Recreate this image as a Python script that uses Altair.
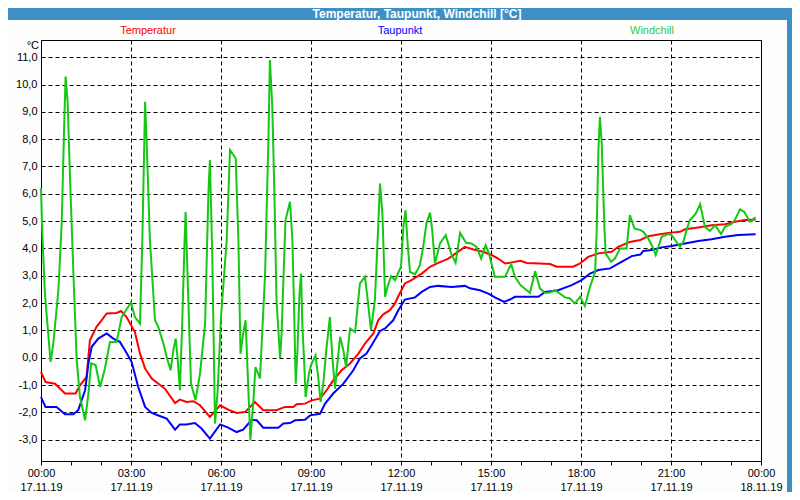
import altair as alt
import pandas as pd

# ---------------- data (hours since 17.11.19 00:00, °C) ----------------
series_names = ["Temperatur", "Taupunkt", "Windchill"]
series_colors = ["#ff0000", "#0000ff", "#14c814"]
legend_colors = ["#ff0000", "#0000ff", "#33cc33"]

temp_t = [0.00, 0.15, 0.47, 0.80, 1.15, 1.30, 1.52, 1.63, 1.85, 2.02, 2.19, 2.52, 2.67, 2.85,
          3.13, 3.30, 3.47, 3.69, 3.98, 4.13, 4.47, 4.63, 4.85, 5.08, 5.30, 5.63, 5.97, 6.24,
          6.52, 6.80, 7.13, 7.41, 7.85, 8.13, 8.41, 8.52, 8.80, 9.02, 9.30, 9.52, 9.74, 10.02,
          10.30, 10.58, 10.80, 11.08, 11.24, 11.41, 11.63, 11.80, 11.91, 12.13, 12.35, 12.69,
          12.97, 13.24, 13.58, 13.85, 14.13, 14.41, 14.74, 15.02, 15.24, 15.47, 15.69, 15.98,
          16.19, 16.63, 16.97, 17.19, 17.74, 17.97, 18.24, 18.58, 19.02, 19.24, 19.63, 19.98,
          20.24, 20.58, 20.91, 21.30, 21.47, 21.91, 22.35, 22.80, 23.13, 23.47, 23.82]
temp_v = [-0.52, -0.89, -0.95, -1.31, -1.31, -1.01, -0.70, 0.64, 1.13, 1.37, 1.62, 1.64, 1.71, 1.49,
          0.94, 0.15, -0.40, -0.76, -1.01, -1.13, -1.66, -1.53, -1.62, -1.59, -1.74, -2.17, -1.74, -1.90,
          -2.02, -1.99, -1.62, -1.92, -1.92, -1.80, -1.80, -1.70, -1.68, -1.56, -1.50, -1.19, -0.83, -0.46,
          -0.21, 0.15, 0.52, 0.89, 1.37, 1.59, 1.74, 1.99, 2.25, 2.72, 2.84, 3.08,
          3.33, 3.47, 3.63, 3.84, 4.06, 3.96, 3.88, 3.76, 3.63, 3.45, 3.49, 3.55,
          3.47, 3.45, 3.43, 3.33, 3.33, 3.45, 3.69, 3.82, 3.88, 4.06, 4.24, 4.31,
          4.45, 4.51, 4.57, 4.61, 4.70, 4.77, 4.85, 4.89, 4.98, 5.04, 5.06]

dew_t = [0.00, 0.15, 0.52, 0.80, 1.08, 1.24, 1.47, 1.58, 1.69, 1.91, 2.19, 2.41, 2.63, 2.80,
         3.02, 3.24, 3.47, 3.69, 3.98, 4.19, 4.47, 4.63, 4.85, 5.13, 5.35, 5.63, 5.97, 6.24,
         6.52, 6.74, 7.02, 7.19, 7.41, 7.91, 8.08, 8.30, 8.47, 8.80, 8.97, 9.30, 9.47, 9.74,
         10.08, 10.41, 10.63, 10.85, 11.02, 11.30, 11.47, 11.74, 11.91, 12.13, 12.47, 12.69,
         12.97, 13.24, 13.69, 14.13, 14.30, 14.63, 14.91, 15.13, 15.44, 15.63, 15.80, 16.58,
         16.80, 17.24, 17.69, 18.02, 18.30, 18.58, 18.97, 19.35, 19.69, 19.98, 20.08, 20.35,
         20.69, 21.02, 21.47, 21.91, 22.35, 22.80, 23.24, 23.82]
dew_v = [-1.44, -1.80, -1.80, -2.07, -2.07, -1.92, -1.19, -0.21, 0.40, 0.70, 0.89, 0.70, 0.58, 0.27,
         -0.15, -1.07, -1.80, -2.02, -2.14, -2.23, -2.63, -2.44, -2.44, -2.39, -2.59, -2.96, -2.44, -2.56,
         -2.72, -2.63, -2.27, -2.29, -2.56, -2.56, -2.41, -2.39, -2.29, -2.27, -2.11, -2.05, -1.68, -1.31,
         -0.95, -0.46, -0.03, 0.15, 0.46, 0.98, 1.07, 1.37, 1.74, 2.13, 2.21, 2.41,
         2.59, 2.63, 2.59, 2.63, 2.54, 2.47, 2.35, 2.21, 2.04, 2.13, 2.23, 2.23,
         2.41, 2.47, 2.66, 2.84, 3.08, 3.21, 3.27, 3.51, 3.72, 3.78, 3.91, 3.94,
         4.04, 4.09, 4.18, 4.27, 4.34, 4.43, 4.49, 4.52]

wind_t = [0.00, 0.04, 0.13, 0.24, 0.32, 0.41, 0.58, 0.69, 0.78, 0.82, 0.89, 0.97, 1.08, 1.19,
          1.30, 1.47, 1.58, 1.67, 1.82, 1.97, 2.13, 2.30, 2.52, 2.69, 3.00, 3.13, 3.30, 3.38,
          3.47, 3.52, 3.63, 3.80, 3.91, 4.08, 4.19, 4.32, 4.41, 4.49, 4.55, 4.63, 4.71, 4.78,
          4.82, 4.89, 5.00, 5.15, 5.30, 5.47, 5.58, 5.63, 5.71, 5.80, 5.89, 6.00, 6.19, 6.30,
          6.49, 6.58, 6.65, 6.74, 6.82, 6.89, 6.98, 7.08, 7.15, 7.30, 7.47, 7.58, 7.63, 7.71,
          7.78, 7.85, 7.97, 8.02, 8.08, 8.15, 8.30, 8.38, 8.44, 8.49, 8.55, 8.61, 8.67, 8.71,
          8.78, 8.82, 8.93, 9.00, 9.15, 9.24, 9.32, 9.41, 9.52, 9.63, 9.71, 9.80, 9.89, 9.97,
          10.08, 10.17, 10.30, 10.47, 10.63, 10.80, 10.89, 11.00, 11.13, 11.24, 11.30, 11.38,
          11.47, 11.55, 11.67, 11.80, 12.00, 12.08, 12.15, 12.22, 12.30, 12.47, 12.63, 12.74,
          12.85, 12.97, 13.04, 13.13, 13.30, 13.49, 13.67, 13.82, 13.97, 14.17, 14.35, 14.52,
          14.67, 14.82, 14.93, 15.13, 15.47, 15.67, 15.80, 15.98, 16.08, 16.30, 16.47, 16.63,
          16.80, 16.97, 17.13, 17.47, 17.63, 17.80, 17.97, 18.13, 18.30, 18.47, 18.52, 18.58,
          18.63, 18.69, 18.78, 18.82, 19.00, 19.13, 19.30, 19.52, 19.63, 19.78, 19.98, 20.08,
          20.24, 20.41, 20.49, 20.58, 20.69, 20.91, 21.02, 21.30, 21.41, 21.52, 21.63, 21.82,
          21.97, 22.05, 22.13, 22.30, 22.47, 22.67, 22.80, 23.00, 23.13, 23.30, 23.44, 23.63,
          23.71, 23.82]
wind_v = [6.20, 4.67, 2.35, 0.89, -0.15, 0.52, 2.47, 4.92, 8.82, 10.29, 9.31, 6.50, 3.08, -0.09,
          -1.44, -2.29, -1.31, -0.21, -0.27, -1.07, -0.40, 0.58, 0.58, 1.49, 2.02, 1.49, 1.25, 4.43,
          9.37, 7.97, 4.31, 1.37, 1.13, 0.52, 0.03, -0.46, 0.27, 0.70, 0.03, -1.19, 1.37, 4.06,
          5.34, 2.84, -0.95, -1.56, -0.58, 1.25, 6.02, 7.24, 3.69, -2.41, -1.19, 1.49, 4.31, 7.60,
          7.30, 4.31, 0.15, 0.89, 1.37, -0.58, -3.02, -1.56, -0.34, -0.76, 3.08, 7.97, 10.90, 9.19,
          6.02, 2.11, -0.02, 0.89, 2.84, 5.04, 5.71, 4.31, 1.62, -0.95, 0.27, 2.23, 3.08, 1.25,
          -0.34, -1.44, -0.58, -0.27, 0.09, -0.70, -1.62, -0.95, 0.40, 1.49, 0.03, -1.13, -0.09, 0.76,
          0.27, -0.34, 1.07, 0.94, 2.72, 2.96, 2.11, 1.01, 2.11, 4.79, 6.38, 5.28,
          2.23, 2.59, 2.99, 2.84, 3.33, 4.79, 5.40, 4.18, 3.14, 3.06, 3.39, 4.06,
          4.92, 5.31, 4.67, 3.45, 4.18, 4.49, 3.82, 3.47, 4.57, 4.21, 4.18, 4.06,
          3.63, 4.12, 3.82, 2.96, 2.96, 3.43, 2.96, 2.66, 2.57, 2.37, 3.17, 2.54,
          2.37, 2.39, 2.47, 2.21, 2.17, 1.99, 2.23, 1.89, 2.59, 3.14, 4.55, 7.60,
          8.82, 7.85, 4.79, 3.82, 3.51, 3.63, 4.00, 4.00, 5.22, 4.73, 4.67, 4.61,
          4.37, 4.00, 3.76, 4.06, 4.43, 4.53, 4.49, 4.06, 4.24, 4.67, 5.04, 5.26,
          5.62, 5.22, 4.79, 4.64, 4.85, 4.53, 4.79, 4.89, 5.04, 5.43, 5.34, 4.98,
          5.04, 5.14]

x_tick_hours = list(range(0, 25))
time_labels = ["00:00", "03:00", "06:00", "09:00", "12:00", "15:00", "18:00", "21:00", "00:00"]
date_labels = ["17.11.19"] * 8 + ["18.11.19"]
y_tick_values = list(range(-3, 12))
y_tick_labels = ["-3,0", "-2,0", "-1,0", "0,0", "1,0", "2,0", "3,0", "4,0", "5,0",
                 "6,0", "7,0", "8,0", "9,0", "10,0", "11,0"]
chart_title = "Temperatur, Taupunkt, Windchill [°C]"
unit_label = "°C"

FONT = "Liberation Sans"
FRAME = "#3d8fc4"
INNER = "#fcfdfc"

def js_list(items):
    return "[" + ",".join("'" + s + "'" for s in items) + "]"

x_label_expr = ("datum.value % 3 === 0 ? [" + js_list(time_labels) + "[datum.value/3], "
                + js_list(date_labels) + "[datum.value/3]] : ''")
y_label_expr = js_list(y_tick_labels) + "[datum.value + 3]"

x_scale = alt.Scale(domain=[0, 24], nice=False, zero=False)
y_scale = alt.Scale(domain=[-3.78, 11.63], nice=False, zero=False)

x_axis = alt.Axis(values=x_tick_hours, labelExpr=x_label_expr, title=None,
                  grid=True, gridColor="black", gridDash=[4, 3], gridWidth=1,
                  gridOpacity={"condition": {"test": "datum.value % 3 === 0", "value": 1}, "value": 0},
                  domain=False, ticks=True, tickSize=4, tickColor="black",
                  labelFont=FONT, labelFontSize=11, labelColor="black",
                  labelPadding=2, labelLineHeight=14, labelFlush=False, labelOverlap=False)
y_axis = alt.Axis(values=y_tick_values, labelExpr=y_label_expr, title=None,
                  grid=True, gridColor="black", gridDash=[4, 3], gridWidth=1,
                  domain=False, ticks=False, tickSize=0, labelPadding=4,
                  labelFont=FONT, labelFontSize=11, labelColor="black", labelOverlap=False)

one = pd.DataFrame({"k": [0]})

def frame_rect(x1, x2, y1, y2):
    return alt.Chart(one).mark_rect(color=FRAME).encode(
        x=alt.value(x1), x2=alt.value(x2), y=alt.value(y1), y2=alt.value(y2))

def line_layer(ts, vs, color):
    df = pd.DataFrame({"t": ts, "v": vs})
    return alt.Chart(df).mark_line(color=color, strokeWidth=2).encode(
        x=alt.X("t:Q", scale=x_scale, axis=x_axis),
        y=alt.Y("v:Q", scale=y_scale, axis=y_axis))

def text_layer(txt, x, y, color, size=11, weight="normal", align="center", baseline="middle"):
    return alt.Chart(pd.DataFrame({"s": [txt]})).mark_text(
        font=FONT, fontSize=size, fontWeight=weight, color=color, align=align, baseline=baseline
    ).encode(text="s:N", x=alt.value(x), y=alt.value(y))

layers = [
    frame_rect(-33, 751, -32, -20),   # title bar
    frame_rect(746, 751, -32, 452),   # right border
    line_layer(temp_t, temp_v, series_colors[0]),
    line_layer(dew_t, dew_v, series_colors[1]),
    line_layer(wind_t, wind_v, series_colors[2]),
    text_layer(chart_title, 376, -26, "white", size=12, weight="bold"),
    text_layer(series_names[0], 107, -9, legend_colors[0]),
    text_layer(series_names[1], 359, -9, legend_colors[1]),
    text_layer(series_names[2], 611, -9, legend_colors[2]),
    text_layer(unit_label, -2, 6, "black", align="right"),
]

chart = alt.layer(*layers).properties(
    width=720, height=421,
    padding={"left": 33, "top": 32, "right": 31, "bottom": 31},
    autosize=alt.AutoSizeParams(type="none"),
).configure(background=INNER).configure_view(fill="white", stroke="black", strokeWidth=1)

chart.save("out.html", embed_options={"renderer": "svg", "actions": False})
